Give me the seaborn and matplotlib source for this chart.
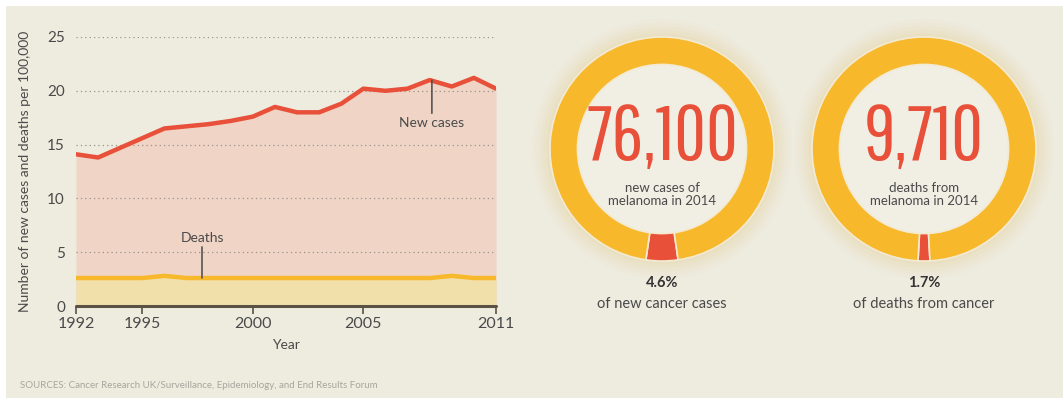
import matplotlib
matplotlib.use("Agg")
import matplotlib.pyplot as plt
from matplotlib.patches import Rectangle, Circle
import numpy as np
import pandas as pd
import seaborn as sns

# Melanoma rates per 100,000
years = [1992, 1993, 1994, 1995, 1996, 1997, 1998, 1999, 2000, 2001,
         2002, 2003, 2004, 2005, 2006, 2007, 2008, 2009, 2010, 2011]
new_cases = [14.1, 13.8, 14.7, 15.6, 16.5, 16.7, 16.9, 17.2, 17.6, 18.5,
             18.0, 18.0, 18.8, 20.2, 20.0, 20.2, 21.0, 20.4, 21.2, 20.2]
deaths = [2.6, 2.6, 2.6, 2.6, 2.8, 2.6, 2.6, 2.6, 2.6, 2.6,
          2.6, 2.6, 2.6, 2.6, 2.6, 2.6, 2.6, 2.8, 2.6, 2.6]
year_ticks = [1992, 1995, 2000, 2005, 2011]
y_ticks = [0, 5, 10, 15, 20, 25]

# 2014 headline figures
totals = ["76,100", "9,710"]
total_captions = ["new cases of\nmelanoma in 2014", "deaths from\nmelanoma in 2014"]
shares = [4.6, 1.7]
share_labels = ["4.6%", "1.7%"]
share_captions = ["of new cancer cases", "of deaths from cancer"]

source_text = "SOURCES: Cancer Research UK/Surveillance, Epidemiology, and End Results Forum"

BG = "#eeebdf"
RED = "#e8503a"
YELLOW = "#f7b82b"
PINK_FILL = "#f0d5c7"
YELLOW_FILL = "#f2e0ab"
TEXT = "#4a4a4a"

sns.set_theme(style="white")
plt.rcParams["font.family"] = ["Lato", "DejaVu Sans"]

W, H = 1063, 398
fig = plt.figure(figsize=(W / 100, H / 100), dpi=100)
fig.patch.set_facecolor("white")
fig.patches.append(Rectangle((6 / W, 0), 1, 1 - 6 / H, transform=fig.transFigure,
                             facecolor=BG, edgecolor="none", zorder=-10))


def px_axes(x0, y_top, x1, y_bottom):
    return fig.add_axes([x0 / W, 1 - y_bottom / H, (x1 - x0) / W, (y_bottom - y_top) / H])


# ---- line / area chart ----
ax = px_axes(76, 37, 496, 306)
ax.set_facecolor("none")
df = pd.DataFrame({"Year": years, "New cases": new_cases, "Deaths": deaths})

ax.fill_between(df["Year"], 0, df["New cases"], color=PINK_FILL, lw=0, zorder=1)
ax.fill_between(df["Year"], 0, df["Deaths"], color=YELLOW_FILL, lw=0, zorder=2)
for yv in y_ticks[1:]:
    ax.axhline(yv, color="#9a948a", lw=0.9, ls=(0, (1, 2.5)), zorder=3)
sns.lineplot(data=df, x="Year", y="New cases", ax=ax, color=RED, lw=3.2, zorder=5)
sns.lineplot(data=df, x="Year", y="Deaths", ax=ax, color=YELLOW, lw=3.2, zorder=5)
ax.axhline(0, color="#5a5244", lw=2.2, zorder=6, clip_on=False)

ax.set_xlim(1992, 2011)
ax.set_ylim(0, 25)
ax.set_xticks(year_ticks)
ax.set_yticks(y_ticks)
ax.tick_params(axis="x", length=6, width=1.2, color="#5a5244", labelsize=11.5,
               labelcolor=TEXT, pad=2, bottom=True)
ax.tick_params(axis="y", length=0, labelsize=11, labelcolor=TEXT, pad=8)
for s in ax.spines.values():
    s.set_visible(False)
ax.set_xlabel("Year", fontsize=10, color=TEXT, labelpad=6)
ax.set_ylabel("Number of new cases and deaths per 100,000", fontsize=10, color=TEXT)
ax.yaxis.set_label_coords(-0.108, 0.5)

# callouts
ax.annotate("New cases", xy=(2008.1, 21.0), xytext=(2008.1, 17.6),
            ha="center", va="top", fontsize=10, color=TEXT,
            arrowprops=dict(arrowstyle="-", color="#4a4a4a", lw=1.1,
                            shrinkA=0, shrinkB=0), zorder=7)
ax.annotate("Deaths", xy=(1997.7, 2.6), xytext=(1997.7, 5.8),
            ha="center", va="bottom", fontsize=10, color=TEXT,
            arrowprops=dict(arrowstyle="-", color="#4a4a4a", lw=1.1,
                            shrinkA=0, shrinkB=0), zorder=7)

# ---- donuts ----
R = 112
centers = [(662, 149), (924, 149)]
for (cx, cy), total, cap, share, slab, scap in zip(centers, totals, total_captions,
                                                   shares, share_labels, share_captions):
    pad = 20
    dax = px_axes(cx - R - pad, cy - R - pad, cx + R + pad, cy + R + pad)
    scale = (R + pad) / R
    # soft glow around the ring
    for k, a in zip(np.linspace(1.16, 1.0, 6), [0.03, 0.04, 0.05, 0.06, 0.07, 0.08]):
        dax.add_patch(Circle((0, 0), k, facecolor="#e9c66a", edgecolor="none",
                             alpha=a, zorder=0))
    dax.add_patch(Circle((0, 0), 0.76, facecolor="#f1eee4", edgecolor="none", zorder=1))
    angle = share * 3.6
    dax.pie([share, 100 - share], colors=[RED, YELLOW], startangle=270 - angle / 2,
            counterclock=True, radius=1.0,
            wedgeprops=dict(width=0.245, edgecolor="#f3ead2", linewidth=1.2))
    dax.set_xlim(-scale, scale)
    dax.set_ylim(-scale, scale)
    dax.set_aspect("equal")
    dax.axis("off")

    fig.text(cx / W, 1 - 139 / H, total, ha="center", va="center", color=RED,
             fontsize=56, family=["Pathway Gothic One", "DejaVu Sans"])
    fig.text(cx / W, 1 - 195 / H, cap, ha="center", va="center", color=TEXT,
             fontsize=9.5, linespacing=1.1)
    fig.text(cx / W, 1 - 283 / H, slab, ha="center", va="center", color="#333333",
             fontsize=10.5, fontweight="bold")
    fig.text(cx / W, 1 - 304 / H, scap, ha="center", va="center", color=TEXT,
             fontsize=10.5)

fig.text(20 / W, 1 - 386 / H, source_text, ha="left", va="center", color="#a8a59e",
         fontsize=7)

fig.savefig("out.png", dpi=100, facecolor=fig.get_facecolor())
